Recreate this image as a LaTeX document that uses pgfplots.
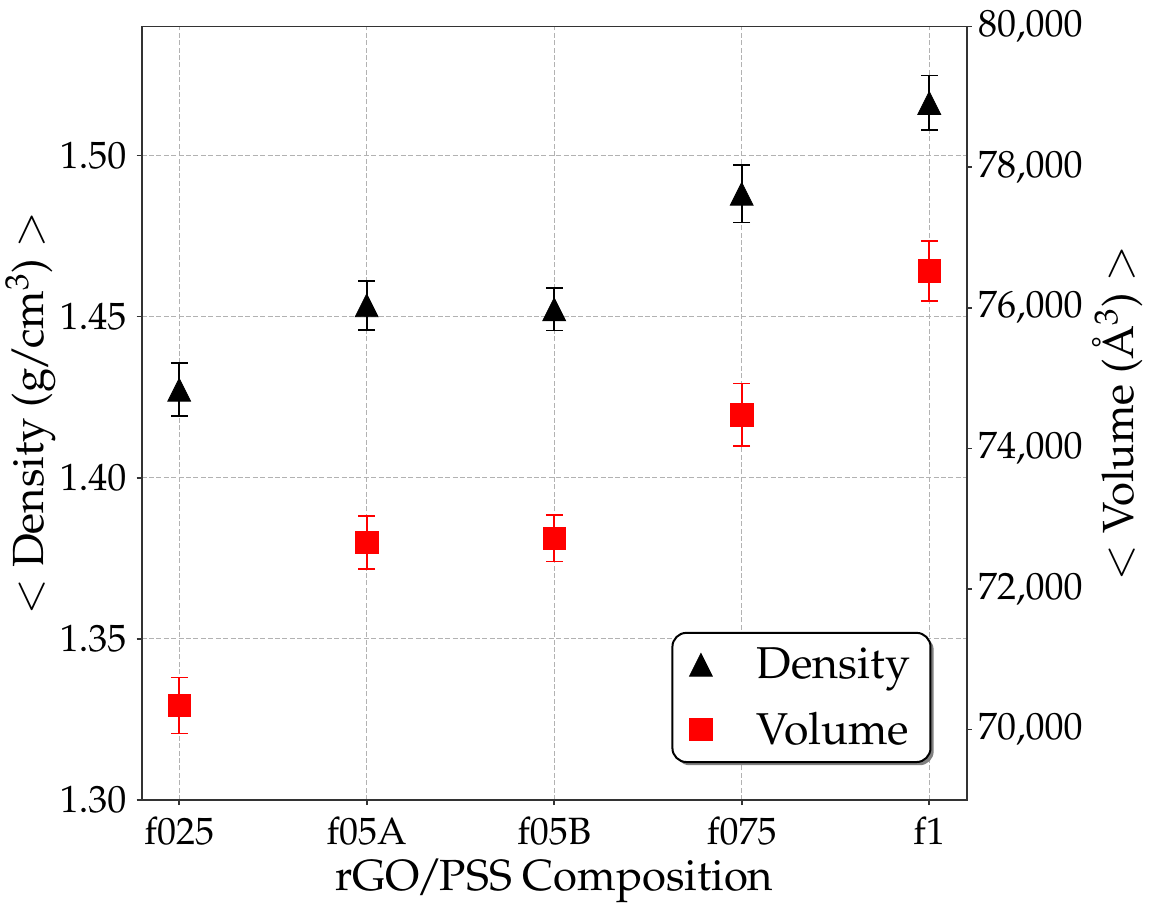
\documentclass[border=0pt]{standalone}
\usepackage[T1]{fontenc}
\usepackage{mathpazo}
\usepackage{pgfplots}
\pgfplotsset{compat=1.18}
\usetikzlibrary{shadows}
\pgfdeclareplotmark{mtri}{%
  \pgfpathmoveto{\pgfqpoint{0pt}{\pgfplotmarksize}}%
  \pgfpathlineto{\pgfqpoint{-\pgfplotmarksize}{-\pgfplotmarksize}}%
  \pgfpathlineto{\pgfqpoint{\pgfplotmarksize}{-\pgfplotmarksize}}%
  \pgfpathclose
  \pgfusepathqfillstroke}
\newcommand\tickfont{\fontsize{19}{23}\selectfont}
\newcommand\labelfont{\fontsize{21.8}{26}\selectfont}
\newcommand\legfont{\fontsize{22.3}{27}\selectfont}
\newcommand\tsl{\kern-1.6pt/\kern-1.6pt}
\pgfplotstableread{
x y e
0 1.4273 0.0082
1 1.4535 0.0076
2 1.4523 0.0066
3 1.4881 0.0089
4 1.5163 0.0085
}\density
\pgfplotstableread{
x y e
0 70344 398
1 72662 381
2 72723 330
3 74479 445
4 76525 429
}\volume
\begin{document}
\begin{tikzpicture}
\begin{axis}[
  name=main,
  scale only axis, width=412.5pt, height=386.7pt,
  xmin=-0.2, xmax=4.2, ymin=1.30, ymax=1.54,
  xtick={0,1,2,3,4}, xticklabels={f025,f05A,f05B,f075,f1},
  ytick={1.30,1.35,1.40,1.45,1.50},
  yticklabel style={/pgf/number format/fixed, /pgf/number format/fixed zerofill, /pgf/number format/precision=2},
  xtick pos=bottom, ytick pos=left,
  tick align=outside, major tick length=2.5pt,
  tick style={black!80, line width=0.8pt},
  axis line style={black!80, line width=0.9pt},
  grid=major,
  grid style={black!30, line width=0.5pt, dash pattern=on 2.5pt off 1.2pt},
  every tick label/.append style={font=\tickfont, inner sep=0pt},
  xticklabel style={anchor=north, yshift=-6pt},
  yticklabel style={anchor=east, xshift=-5pt},
  xlabel={rGO\tsl PSS Composition},
  ylabel={$<$ Density (g\tsl cm$^3$) $>$},
  xlabel style={font=\labelfont, at={(axis description cs:0.5,0)}, anchor=base, yshift=-45pt},
  ylabel style={font=\labelfont, at={(axis description cs:-0.11855,0.5)}, anchor=base},
]
\addplot[only marks, black, mark=mtri, mark size=5.7pt, mark options={line width=0.4pt},
  error bars/.cd, y dir=both, y explicit,
  error bar style={line width=0.9pt, black},
  error mark options={black, line width=0.9pt, mark size=4.2pt, rotate=90}]
  table[x=x, y=y, y error=e] {\density};
\end{axis}
\begin{axis}[
  scale only axis, width=412.5pt, height=386.7pt,
  xmin=-0.2, xmax=4.2, ymin=69000, ymax=80000,
  axis x line=none, axis y line*=right,
  ytick={70000,72000,74000,76000,78000,80000},
  scaled y ticks=false,
  yticklabel style={/pgf/number format/fixed, /pgf/number format/1000 sep={\mathord{,}}},
  tick align=outside, major tick length=2.5pt,
  tick style={black!80, line width=0.8pt},
  axis line style={black!80, line width=0.9pt},
  every tick label/.append style={font=\tickfont, inner sep=0pt},
  yticklabel style={anchor=west, xshift=3pt},
  ylabel={$<$ Volume (\AA$^3$) $>$},
  ylabel style={font=\labelfont, at={(axis description cs:1.2017,0.5)}, anchor=base},
  legend style={font=\legfont, at={(axis description cs:0.9573,0.0478)}, anchor=south east,
    draw=black, line width=1pt, rounded corners=7pt, fill=white,
    inner xsep=8.3pt, inner ysep=5.5pt, row sep=11pt, column sep=19.9pt,
    drop shadow={shadow xshift=1.6pt, shadow yshift=-1.6pt, fill=black!50, opacity=1},
    cells={anchor=west}},
  legend image code/.code={\path (0pt,0pt) (11pt,0pt); \draw[#1] plot coordinates {(5.45pt,0pt)};},
]
\addlegendimage{only marks, black, mark=mtri, mark size=5.7pt, mark options={line width=0.4pt}}
\addlegendentry{Density}
\addplot[only marks, red, mark=square*, mark size=5.6pt, mark options={line width=0.4pt},
  error bars/.cd, y dir=both, y explicit,
  error bar style={line width=0.9pt, red},
  error mark options={red, line width=0.9pt, mark size=4.2pt, rotate=90}]
  table[x=x, y=y, y error=e] {\volume};
\addlegendentry{Volume}
\end{axis}
\pgfresetboundingbox
\path[use as bounding box] ([xshift=-70.85pt,yshift=-58pt]main.south west) rectangle ([xshift=93.65pt,yshift=13.3pt]main.north east);
\end{tikzpicture}
\end{document}
